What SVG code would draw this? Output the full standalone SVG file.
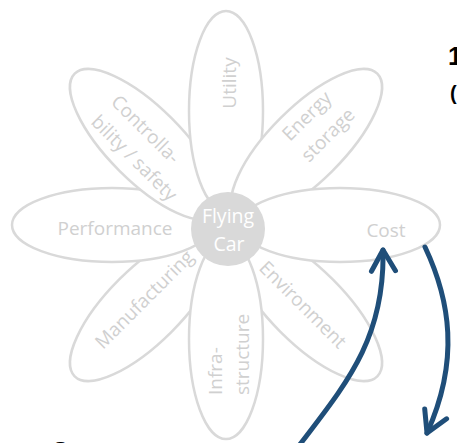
<svg xmlns="http://www.w3.org/2000/svg" width="457" height="443" viewBox="0 0 457 443">
<defs>
<style>
.petal{fill:#ffffff;stroke:#d9d9d9;stroke-width:2.5}
.lbl{font-family:"Open Sans","Liberation Sans",sans-serif;font-size:19px;fill:#d0d0d0}
.ctr{font-family:"Open Sans","Liberation Sans",sans-serif;font-size:19.5px;fill:#ffffff;text-anchor:middle}
.arr{fill:none;stroke:#1f4e79;stroke-width:5;stroke-linecap:round}
.big{font-family:"Liberation Sans",sans-serif;font-weight:bold;fill:#000000}
</style>
<marker id="chev" markerUnits="userSpaceOnUse" markerWidth="40" markerHeight="40" viewBox="-30 -20 40 40" refX="0" refY="0" orient="auto">
<path d="M-21,-12 L0,0 L-21,12" fill="none" stroke="#1f4e79" stroke-width="5" stroke-linecap="round" stroke-linejoin="round"/>
</marker>
</defs>
<rect width="457" height="443" fill="#ffffff"/>
<g id="manufacturing">
<ellipse class="petal" cx="0" cy="0" rx="100" ry="37" transform="translate(226,225) rotate(135) translate(114,0)"/>
<text class="lbl" transform="translate(103,350) rotate(-45)">Manufacturing</text>
</g>
<g id="performance">
<ellipse class="petal" cx="0" cy="0" rx="100" ry="37" transform="translate(226,225) rotate(180) translate(114,0)"/>
<text class="lbl" x="115" y="235" text-anchor="middle">Performance</text>
</g>
<g id="controllability">
<ellipse class="petal" cx="0" cy="0" rx="100" ry="37" transform="translate(226,225) rotate(225) translate(114,0)"/>
<text class="lbl" transform="translate(110,103) rotate(45)">Controlla-</text>
<text class="lbl" transform="translate(90,123) rotate(45)">bility / safety</text>
</g>
<g id="utility">
<ellipse class="petal" cx="0" cy="0" rx="100" ry="37" transform="translate(226,225) rotate(270) translate(114,0)"/>
<text class="lbl" transform="translate(236,83) rotate(-90)" text-anchor="middle">Utility</text>
</g>
<g id="energy">
<ellipse class="petal" cx="0" cy="0" rx="100" ry="37" transform="translate(226,225) rotate(315) translate(114,0)"/>
<text class="lbl" transform="translate(290,142) rotate(-45)">Energy</text>
<text class="lbl" transform="translate(309,163) rotate(-45)">storage</text>
</g>
<g id="environment">
<ellipse class="petal" cx="0" cy="0" rx="100" ry="37" transform="translate(226,225) rotate(45) translate(114,0)"/>
<text class="lbl" transform="translate(258,269) rotate(45)">Environment</text>
</g>
<g id="infrastructure">
<ellipse class="petal" cx="0" cy="0" rx="100" ry="37" transform="translate(226,225) rotate(90) translate(114,0)"/>
<text class="lbl" transform="translate(222,395) rotate(-90)">Infra-</text>
<text class="lbl" transform="translate(249,395) rotate(-90)">structure</text>
</g>
<g id="cost">
<ellipse class="petal" cx="0" cy="0" rx="100" ry="37" transform="translate(226,225) rotate(0) translate(114,0)"/>
<text class="lbl" x="386" y="237" text-anchor="middle">Cost</text>
</g>
<g id="flying-car">
<circle cx="228" cy="229" r="37" fill="#d9d9d9"/>
<text class="ctr" x="228" y="223">Flying</text>
<text class="ctr" x="229" y="251">Car</text>
</g>
<g id="connectors">
<path class="arr" d="M298,447 C345,385 385,340 383,250" marker-end="url(#chev)"/>
<path class="arr" d="M425,247 C450,300 460,360 427,433" marker-end="url(#chev)"/>
</g>
<g id="fragments">
<text class="big" x="448" y="65" font-size="26">1</text>
<text class="big" x="450" y="100" font-size="20">(</text>
<text class="big" x="52" y="462" font-size="30">2</text>
</g>
</svg>
